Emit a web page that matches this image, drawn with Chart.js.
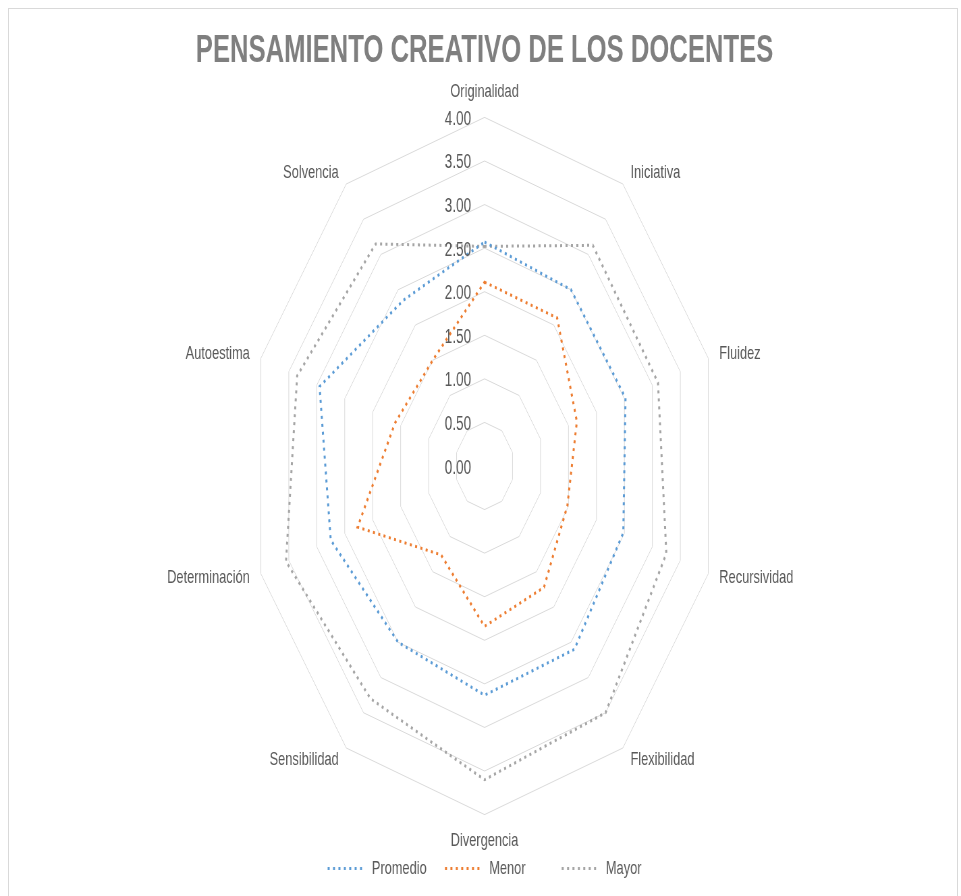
<!DOCTYPE html>
<html>
<head>
<meta charset="utf-8">
<script src="https://cdn.jsdelivr.net/npm/chart.js@4.4.1/dist/chart.umd.min.js"></script>
<style>
  html, body { margin: 0; padding: 0; background: #fff; overflow: hidden; }
  #frame { position: absolute; left: 8px; top: 8px; width: 950px; height: 900px; border: 1px solid #d9d9d9; box-sizing: border-box; }
  /* the original picture is squeezed sideways, so draw wide and scale down */
  #radar { position: absolute; left: 0; top: 0; width: 961px !important; height: 896px !important; }
</style>
</head>
<body>
<div id="frame"></div>
<canvas id="radar" width="1424" height="896"></canvas>
<script>
const categories = ['Originalidad', 'Iniciativa', 'Fluidez', 'Recursividad', 'Flexibilidad',
  'Divergencia', 'Sensibilidad', 'Determinación', 'Autoestima', 'Solvencia'];
const promedio = [2.57, 2.5, 2.52, 2.48, 2.6, 2.63, 2.5, 2.75, 2.95, 2.35];
const menor    = [2.11, 2.1, 1.65, 1.48, 1.72, 1.84, 1.26, 2.27, 1.6, 1.5];
const mayor    = [2.52, 3.13, 3.1, 3.25, 3.5, 3.6, 3.3, 3.55, 3.35, 3.15];
const tickLabels = ['0.00', '0.50', '1.00', '1.50', '2.00', '2.50', '3.00', '3.50', '4.00'];

const FONT = '"Liberation Sans", Arial, sans-serif';
Chart.defaults.font.family = FONT;
Chart.defaults.color = '#595959';

// tick numbers sit just left of the centre axis,
// category names are centred on their spoke like in Excel
const radarText = {
  id: 'radarText',
  afterDatasetsDraw(chart) {
    const s = chart.scales.r;
    const ctx = chart.ctx;
    ctx.save();
    ctx.fillStyle = '#595959';
    ctx.textBaseline = 'middle';

    ctx.font = '20px ' + FONT;
    ctx.textAlign = 'right';
    s.ticks.forEach((t, i) => {
      const d = s.getDistanceFromCenterForValue(t.value);
      ctx.fillText(tickLabels[i], s.xCenter - 20, s.yCenter - d + 2);
    });

    ctx.font = '19px ' + FONT;
    categories.forEach((name, i) => {
      const deg = Math.round(s.getIndexAngle(i) * 180 / Math.PI) % 360;
      const p = s.getPointPosition(i, s.drawingArea + 14);
      let x = p.x, y = p.y;
      if (deg === 0) { ctx.textAlign = 'center'; y -= 12; }
      else if (deg === 180) { ctx.textAlign = 'center'; y += 12; }
      else if (deg < 180) { ctx.textAlign = 'left'; x += 3; }
      else { ctx.textAlign = 'right'; x -= 3; }
      ctx.fillText(name, x, y);
    });
    ctx.restore();
  }
};

function serie(label, data, color) {
  return {
    label: label,
    data: data,
    borderColor: color,
    backgroundColor: color,
    borderWidth: 3,
    borderDash: [3, 5],
    borderCapStyle: 'butt',
    fill: false,
    pointRadius: 0,
    tension: 0
  };
}

const legendGap = [4, 9, 0];

const ctx = document.getElementById('radar').getContext('2d');
new Chart(ctx, {
  type: 'radar',
  data: {
    labels: categories,
    datasets: [
      serie('Promedio', promedio, '#5B9BD5'),
      serie('Menor', menor, '#ED7D31'),
      serie('Mayor', mayor, '#A5A5A5')
    ]
  },
  options: {
    responsive: false,
    animation: false,
    devicePixelRatio: 1,
    layout: { padding: { left: 12, right: 0, top: 0, bottom: 8 } },
    plugins: {
      title: {
        display: true,
        text: 'PENSAMIENTO CREATIVO DE LOS DOCENTES',
        color: '#7f7f7f',
        font: { size: 38, weight: 'bold' },
        padding: { top: 29, bottom: 5 }
      },
      legend: {
        position: 'bottom',
        labels: {
          usePointStyle: true,
          pointStyle: 'line',
          pointStyleWidth: 56,
          padding: 6,
          color: '#595959',
          font: { size: 19 },
          generateLabels(chart) {
            const items = Chart.defaults.plugins.legend.labels.generateLabels(chart);
            items.forEach((it, i) => {
              const ds = chart.data.datasets[it.datasetIndex];
              it.lineDash = ds.borderDash;
              it.lineWidth = ds.borderWidth;
              it.strokeStyle = ds.borderColor;
              it.text = it.text + ' '.repeat(legendGap[i]);
            });
            return items;
          }
        }
      },
      tooltip: { enabled: false }
    },
    scales: {
      r: {
        min: 0,
        max: 4,
        ticks: { display: false, stepSize: 0.5 },
        grid: { color: '#d9d9d9', lineWidth: 1 },
        angleLines: { display: false },
        // kept for the layout space, the text itself is drawn by radarText
        pointLabels: { color: 'rgba(0,0,0,0)', font: { size: 19 }, padding: 15 }
      }
    }
  },
  plugins: [radarText]
});
</script>
</body>
</html>
